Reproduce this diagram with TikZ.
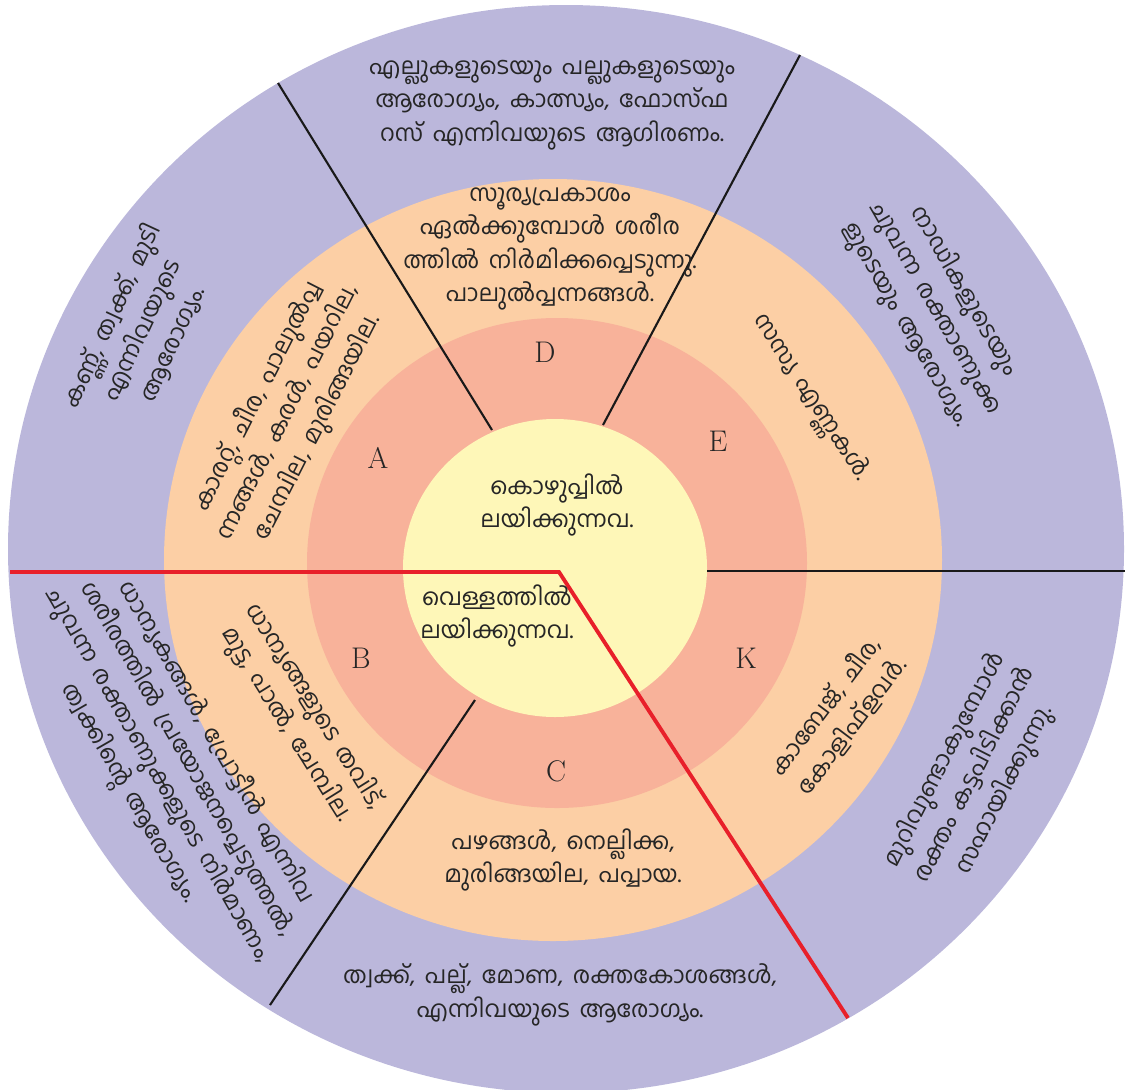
\documentclass[tikz,border=0pt]{standalone}
\usepackage{fontspec}
\newfontfamily\malfont[Script=Malayalam, WordSpace=1.7]{Hind Kochi}

\definecolor{lavender}{RGB}{187,183,219}
\definecolor{peach}{RGB}{252,207,165}
\definecolor{salmonring}{RGB}{248,178,154}
\definecolor{paleyellow}{RGB}{254,247,184}
\definecolor{redline}{RGB}{232,32,42}

\begin{document}
\begin{tikzpicture}[x=0.2mm, y=-0.2mm,
    mal/.style={font=\malfont\fontsize{13.3}{19}\selectfont, align=center, text=black!85},
    letter/.style={font=\fontsize{17}{17}\selectfont, text=black!85},
    divider/.style={draw=black!90, line width=1.2pt}]
\useasboundingbox (0,0) rectangle (1127,1089);

% rings
\fill[lavender] (566,549) ellipse [x radius=558, y radius=544];
\fill[peach] (553,560) ellipse [x radius=389, y radius=381];
\fill[salmonring] (557,563) ellipse [x radius=250, y radius=245];
\fill[paleyellow] (555,568) ellipse [x radius=152, y radius=149];

% dividers
\draw[divider] (278,83) -- (492,430);
\draw[divider] (800,55) -- (603,425);
\draw[divider] (707,571) -- (1125,571);
\draw[divider] (475,700) -- (270,1005);
\draw[redline, line width=2.2pt] (10,572) -- (559,572) -- (848,1018);

% letters
\node[letter] (lA) at (378,458) {A};
\node[letter] (lB) at (361,658) {B};
\node[letter] (lC) at (556,771) {C};
\node[letter] (lD) at (545,352) {D};
\node[letter] (lE) at (718,441) {E};
\node[letter] (lK) at (746,658) {K};

% centre
\node[mal] (fat) at (557,505) {കൊഴുപ്പിൽ\\ലയിക്കുന്നവ.};
\node[mal] (water) at (497,616) {വെള്ളത്തിൽ\\ലയിക്കുന്നവ.};

% sources (orange ring)
\node[mal] (srcD) at (550,249) {സൂര്യപ്രകാശം\\ഏൽക്കുമ്പോൾ ശരീര\\ത്തിൽ നിർമിക്കപ്പെടുന്നു.\\പാലുൽപ്പന്നങ്ങൾ.};
\node[mal, rotate=63] (srcA) at (288,412) {കാരറ്റ്, ചീര, പാലുൽപ്പ\\ന്നങ്ങൾ, കരൾ, പയറില,\\ചേമ്പില, മുരിങ്ങയില.};
\node[mal, rotate=-57] (srcE) at (810,398) {സസ്യ എണ്ണകൾ.};
\node[mal, rotate=-58] (srcB) at (300,716) {ധാന്യങ്ങളുടെ തവിട്,\\മുട്ട, പാൽ, ചേമ്പില.};
\node[mal] (srcC) at (563,860) {പഴങ്ങൾ, നെല്ലിക്ക,\\മുരിങ്ങയില, പപ്പായ.};
\node[mal, rotate=53] (srcK) at (838,716) {കാബേജ്, ചീര,\\കോളിഫ്ളവർ.};

% uses (outer ring)
\node[mal] (useD) at (552,105) {എല്ലുകളുടെയും പല്ലുകളുടെയും\\ആരോഗ്യം, കാത്സ്യം, ഫോസ്ഫ\\റസ് എന്നിവയുടെ ആഗിരണം.};
\node[mal, rotate=65] (useA) at (142,330) {കണ്ണ്, ത്വക്ക്, മുടി\\എന്നിവയുടെ\\ആരോഗ്യം.};
\node[mal, rotate=-60] (useE) at (935,308) {നാഡികളുടെയും\\ചുവന്ന രക്താണുക്ക\\ളുടെയും ആരോഗ്യം.};
\node[mal, rotate=-60] (useB) at (172,768) {ധാന്യകങ്ങൾ, പ്രോട്ടീൻ എന്നിവ\\ശരീരത്തിൽ പ്രയോജനപ്പെടുത്തൽ,\\ചുവന്ന രക്താണുക്കളുടെ നിർമാണം,\\ത്വക്കിന്റെ ആരോഗ്യം.};
\node[mal] (useC) at (560,995) {ത്വക്ക്, പല്ല്, മോണ, രക്തകോശങ്ങൾ,\\എന്നിവയുടെ ആരോഗ്യം.};
\node[mal, rotate=63] (useK) at (975,775) {മുറിവുണ്ടാകുമ്പോൾ\\രക്തം കട്ടപിടിക്കാൻ\\സഹായിക്കുന്നു.};
\end{tikzpicture}
\end{document}
